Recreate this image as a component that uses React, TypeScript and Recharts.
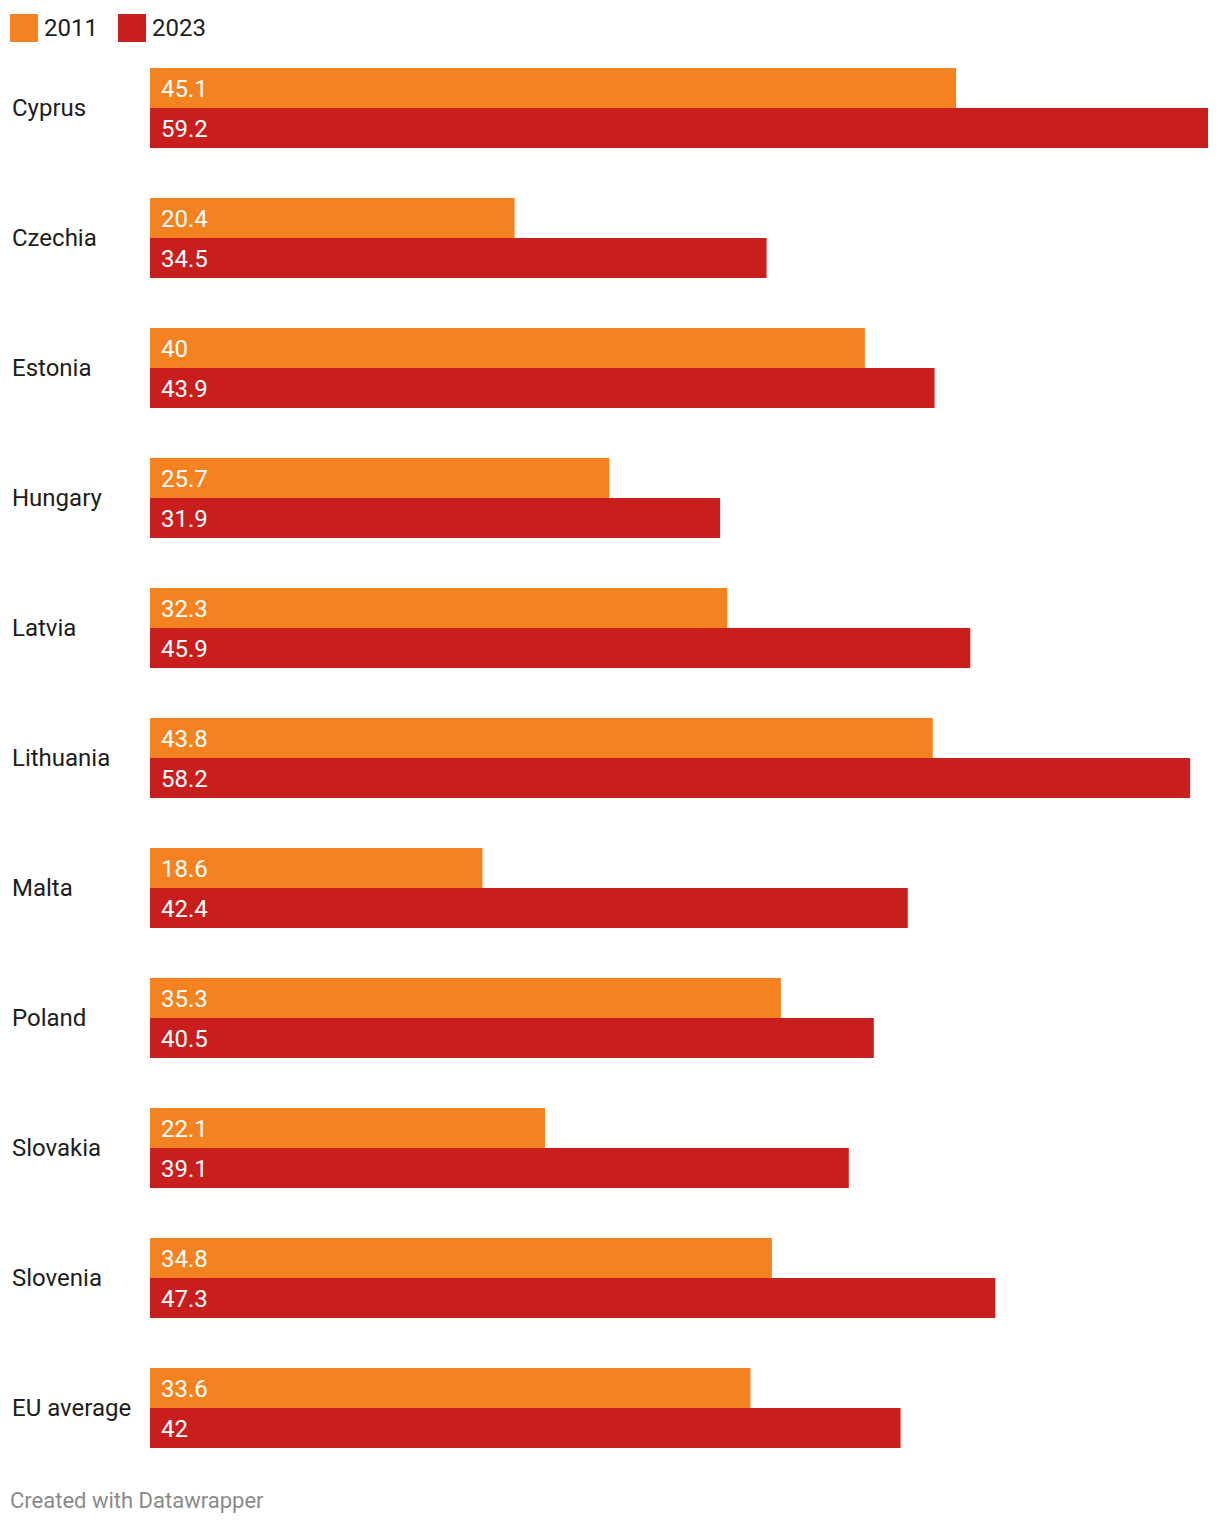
import { BarChart, Bar, XAxis, YAxis, LabelList } from 'recharts'

const countries = [
  'Cyprus',
  'Czechia',
  'Estonia',
  'Hungary',
  'Latvia',
  'Lithuania',
  'Malta',
  'Poland',
  'Slovakia',
  'Slovenia',
  'EU average',
]
const values2011 = [45.1, 20.4, 40, 25.7, 32.3, 43.8, 18.6, 35.3, 22.1, 34.8, 33.6]
const values2023 = [59.2, 34.5, 43.9, 31.9, 45.9, 58.2, 42.4, 40.5, 39.1, 47.3, 42]

const series = [
  { key: 'y2011', name: '2011', color: '#f58220' },
  { key: 'y2023', name: '2023', color: '#c81e1e' },
]

const chartData = countries.map((country, i) => ({
  country,
  y2011: values2011[i],
  y2023: values2023[i],
}))

const FONT = 'Roboto, "Noto Sans", sans-serif'

function CountryTick({ y, payload }: any) {
  return (
    <text x={12} y={y} dy={8} textAnchor="start" fill="#1d1d1d" fontSize={24} fontFamily={FONT}>
      {payload.value}
    </text>
  )
}

export default function App() {
  return (
    <div style={{ position: 'absolute', left: 0, top: 0, width: 1220, height: 1526, background: '#fff', fontFamily: FONT }}>
      <div style={{ position: 'absolute', left: 10, top: 14, display: 'flex', alignItems: 'center' }}>
        {series.map(s => (
          <div key={s.key} style={{ display: 'flex', alignItems: 'center', marginRight: 20 }}>
            <div style={{ width: 28, height: 28, background: s.color, marginRight: 6 }} />
            <span style={{ fontSize: 24, color: '#1d1d1d', lineHeight: '28px' }}>{s.name}</span>
          </div>
        ))}
      </div>
      <div style={{ position: 'absolute', left: 0, top: 0 }}>
        <BarChart
          width={1220}
          height={1480}
          data={chartData}
          layout="vertical"
          margin={{ top: 43, right: 12, left: 0, bottom: 7 }}
          barGap={0}
          barSize={40}
        >
          <XAxis type="number" domain={[0, 59.2]} hide />
          <YAxis
            type="category"
            dataKey="country"
            width={150}
            axisLine={false}
            tickLine={false}
            tick={<CountryTick />}
            interval={0}
          />
          {series.map(s => (
            <Bar key={s.key} dataKey={s.key} name={s.name} fill={s.color} isAnimationActive={false}>
              <LabelList
                dataKey={s.key}
                position="insideLeft"
                offset={11}
                fill="#ffffff"
                fontSize={24}
                fontFamily={FONT}
              />
            </Bar>
          ))}
        </BarChart>
      </div>
      <div style={{ position: 'absolute', left: 10, top: 1488, fontSize: 22, color: '#8a8a8a' }}>
        Created with Datawrapper
      </div>
    </div>
  )
}
